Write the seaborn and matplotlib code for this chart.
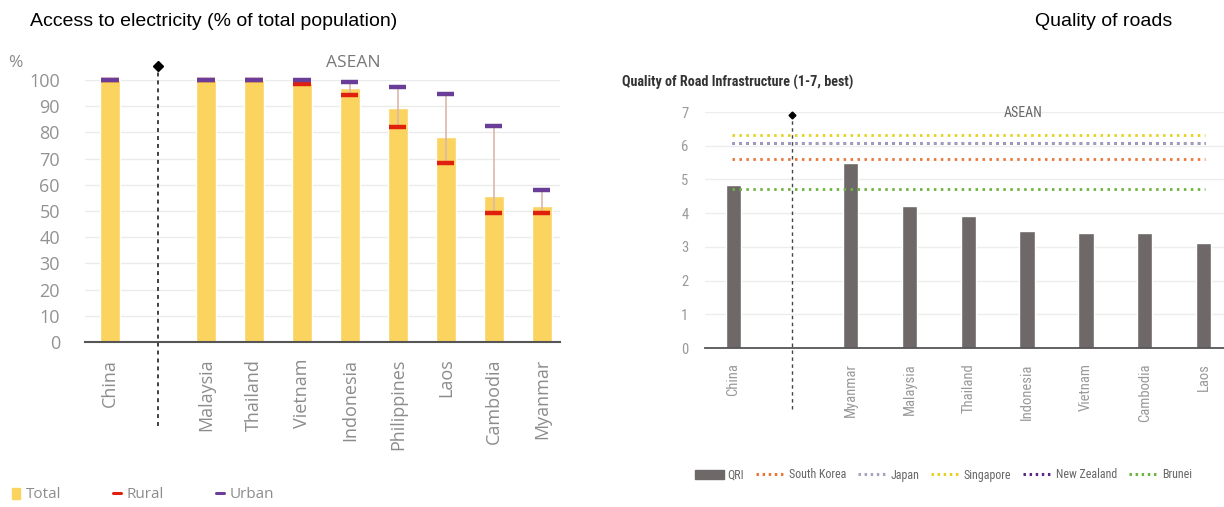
import os
import numpy as np
import pandas as pd
import matplotlib
matplotlib.use("Agg")
import matplotlib.pyplot as plt
import seaborn as sns
from matplotlib import font_manager as fm
from matplotlib.font_manager import FontProperties
from matplotlib.patches import Patch
from matplotlib.lines import Line2D

# ---------------- data ----------------
elec_countries = ["China", "Malaysia", "Thailand", "Vietnam", "Indonesia",
                  "Philippines", "Laos", "Cambodia", "Myanmar"]
elec_total = [100, 100, 100, 99, 96.8, 89.4, 78.3, 55.9, 52]
elec_rural = [100, 100, 100, 98.4, 94.3, 82.2, 68.5, 49.2, 49.2]
elec_urban = [100, 100, 100, 100, 99.2, 97.3, 94.7, 82.6, 58.2]

road_countries = ["China", "Myanmar", "Malaysia", "Thailand", "Indonesia",
                  "Vietnam", "Cambodia", "Laos"]
road_qri = [4.82, 5.5, 4.2, 3.92, 3.48, 3.4, 3.4, 3.1]
bench_names = ["South Korea", "Japan", "Singapore", "New Zealand", "Brunei"]
bench_values = [5.6, 6.08, 6.32, 6.08, 4.72]
bench_colors = ["#E8773A", "#A3A3BE", "#E6D21E", "#5B2A86", "#6DB33F"]

GAP = " "  # empty separator slot between China and ASEAN

sns.set_theme(style="white")
plt.rcParams["font.family"] = ["Liberation Sans", "DejaVu Sans"]

# ---- look for a condensed / narrow font for the right-hand chart ----
all_paths = set(fm.findSystemFonts()) | {f.fname for f in fm.fontManager.ttflist}
def find_font(cands):
    for c in cands:
        for p in all_paths:
            if os.path.basename(p).lower() == c.lower():
                return p
    return None
narrow_reg = find_font(["LiberationSansNarrow-Regular.ttf", "RobotoCondensed-Regular.ttf",
                        "DejaVuSansCondensed.ttf", "OpenSans_Condensed-Regular.ttf"])
narrow_bold = find_font(["LiberationSansNarrow-Bold.ttf", "RobotoCondensed-Bold.ttf",
                         "DejaVuSansCondensed-Bold.ttf", "OpenSans_Condensed-Bold.ttf"])
def nprop(size, bold=False):
    p = narrow_bold if bold else narrow_reg
    if p:
        return FontProperties(fname=p, size=size)
    return FontProperties(family=["Liberation Sans", "DejaVu Sans"], size=size,
                          weight="bold" if bold else "normal")

fig = plt.figure(figsize=(12.24, 5.07), dpi=100)
W, H = 1224, 507
OPEN = ["Open Sans", "DejaVu Sans"]

# ---------------- left chart ----------------
axL = fig.add_axes([85 / W, 1 - 342 / H, (560 - 85) / W, (342 - 80) / H])
orderL = [elec_countries[0], GAP] + elec_countries[1:]
dfL = pd.DataFrame({"country": elec_countries, "total": elec_total})
sns.barplot(data=dfL, x="country", y="total", order=orderL, color="#FBD35F",
            saturation=1, width=0.42, ax=axL, zorder=2)
posL = np.array([orderL.index(c) for c in elec_countries])
axL.vlines(posL, elec_rural, elec_urban, color="#D9B9A9", lw=1.2, zorder=3)
axL.hlines(elec_rural, posL - 0.18, posL + 0.18, color="#E0200E", lw=3.2,
           zorder=4, clip_on=False)
axL.hlines(elec_urban, posL - 0.18, posL + 0.18, color="#6A3E98", lw=3.2,
           zorder=5, clip_on=False)
gapL = orderL.index(GAP)
axL.plot([gapL, gapL], [-32, 105.5], ls=(0, (2.2, 2.2)), color="#333333",
         lw=1.3, clip_on=False, zorder=6)
axL.plot([gapL], [105.5], marker="D", color="black", ms=5, clip_on=False, zorder=7)
axL.text(5.08, 106.5, "ASEAN", ha="center", va="center", fontsize=12.5,
         color="#777777", family=OPEN)
axL.set_ylim(0, 100)
axL.set_xlim(-0.52, 9.38)
axL.set_yticks(range(0, 101, 10))
axL.yaxis.grid(True, color="#EBEBEB", lw=1)
axL.set_axisbelow(True)
for s in ["top", "right", "left"]:
    axL.spines[s].set_visible(False)
axL.spines["bottom"].set_color("#555555")
axL.spines["bottom"].set_linewidth(1.5)
axL.set_xlabel("")
axL.set_ylabel("")
axL.tick_params(axis="y", length=0, pad=18, labelsize=13, labelcolor="#929292")
axL.tick_params(axis="x", length=0, pad=12, labelsize=13, labelcolor="#8C8C8C",
                rotation=90)
for lab in axL.get_xticklabels() + axL.get_yticklabels():
    lab.set_family(OPEN)
fig.text(8 / W, 1 - 63 / H, "%", fontsize=12.5, color="#8C8C8C",
         family=OPEN, va="center")
fig.text(30 / W, 1 - 22 / H, "Access to electricity (% of total population)",
         fontsize=14, color="black", va="center")

handlesL = [Patch(color="#FBD35F"),
            Line2D([], [], color="#E0200E", lw=2.2),
            Line2D([], [], color="#6A3E98", lw=2.2)]
legL = fig.legend(handlesL, ["Total", "Rural", "Urban"], loc="center left",
                  bbox_to_anchor=(-2 / W, 1 - 495 / H), ncol=3, frameon=False,
                  handlelength=0.55, handletextpad=0.35, columnspacing=3.4,
                  prop={"family": OPEN, "size": 11})
for t in legL.get_texts():
    t.set_color("#8C8C8C")

# ---------------- right chart ----------------
axR = fig.add_axes([705 / W, 1 - 348 / H, (1224 - 705) / W, (348 - 112) / H])
orderR = [road_countries[0], GAP] + road_countries[1:]
dfR = pd.DataFrame({"country": road_countries, "qri": road_qri})
sns.barplot(data=dfR, x="country", y="qri", order=orderR, color="#6E6868",
            saturation=1, width=0.26, ax=axR, zorder=2)
first, last = orderR.index(road_countries[0]), orderR.index(road_countries[-1])
for i in [3, 1, 0, 2, 4]:
    axR.hlines(bench_values[i], first - 0.02, last + 0.02, color=bench_colors[i],
               lw=2.0, ls=(0, (0.9, 1.6)), zorder=3)
gapR = orderR.index(GAP)
axR.plot([gapR, gapR], [-1.8, 6.9], ls=(0, (2.5, 2.5)), color="#444444",
         lw=1.0, clip_on=False, zorder=6)
axR.plot([gapR], [6.9], marker="D", color="black", ms=3.5, clip_on=False, zorder=7)
axR.text(4.93, 6.96, "ASEAN", ha="center", va="center", color="#666666",
         fontproperties=nprop(10))
axR.set_ylim(0, 7)
axR.set_xlim(-0.48, 8.35)
axR.set_yticks(range(0, 8))
axR.yaxis.grid(True, color="#EDEDED", lw=1)
axR.set_axisbelow(True)
for s in ["top", "right", "left"]:
    axR.spines[s].set_visible(False)
axR.spines["bottom"].set_color("#555555")
axR.spines["bottom"].set_linewidth(1.3)
axR.set_xlabel("")
axR.set_ylabel("")
axR.tick_params(axis="y", length=0, pad=12, labelcolor="#999999")
axR.tick_params(axis="x", length=0, pad=11, labelcolor="#999999", rotation=90)
for lab in axR.get_xticklabels() + axR.get_yticklabels():
    lab.set_fontproperties(nprop(10.5))

fig.text(622 / W, 1 - 82 / H, "Quality of Road Infrastructure (1-7, best)",
         color="#333333", va="center", fontproperties=nprop(10.2, bold=True))

fig.text(1035 / W, 1 - 22 / H, "Quality of roads", fontsize=14, color="black",
         va="center")

handlesR = [Patch(color="#6E6868")] + [
    Line2D([], [], color=c, lw=2.2, ls=(0, (0.8, 1.2))) for c in bench_colors]
legR = fig.legend(handlesR, ["QRI"] + bench_names, loc="center left",
                  bbox_to_anchor=(684 / W, 1 - 475 / H), ncol=6, frameon=False,
                  handlelength=2.4, handletextpad=0.3, columnspacing=1.1,
                  prop=nprop(9.5))
for t in legR.get_texts():
    t.set_color("#666666")
fig.canvas.draw()
bb = legR.get_window_extent(fig.canvas.get_renderer())
if bb.x1 > 1210:
    legR.remove()
    sc = (1205 - 690) / bb.width
    legR = fig.legend(handlesR, ["QRI"] + bench_names, loc="center left",
                      bbox_to_anchor=(684 / W, 1 - 475 / H), ncol=6, frameon=False,
                      handlelength=2.4, handletextpad=0.3, columnspacing=1.1 * sc,
                      prop=nprop(9.5 * sc))
    for t in legR.get_texts():
        t.set_color("#666666")

fig.savefig("out.png", dpi=100)
